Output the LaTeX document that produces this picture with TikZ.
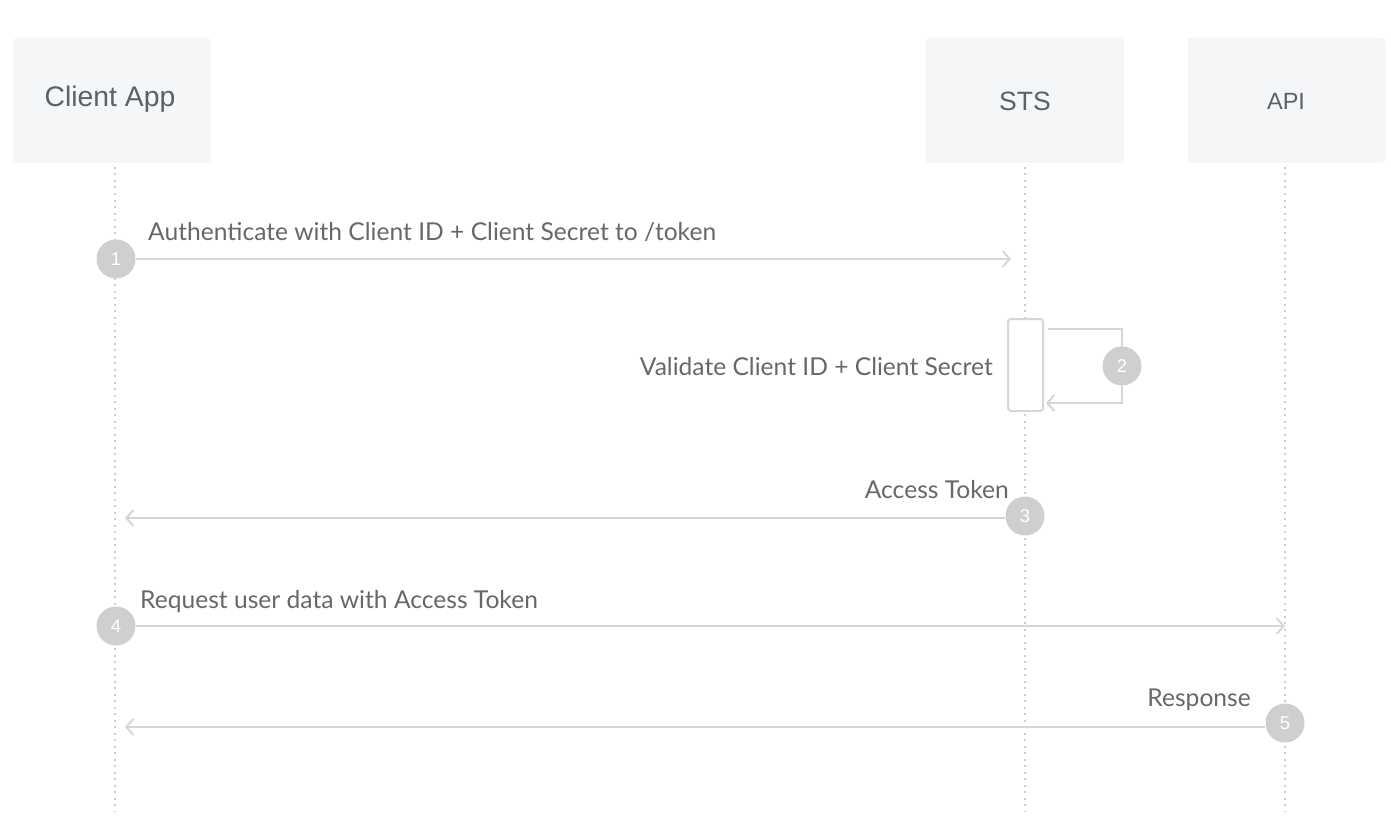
\documentclass[tikz,border=0pt]{standalone}
\usepackage{fontspec}
\setmainfont{Lato}
\newfontfamily\arialfont{Liberation Sans}
\usetikzlibrary{arrows.meta}
\definecolor{boxfill}{HTML}{F5F6F8}
\definecolor{linegray}{HTML}{D6D6D8}
\definecolor{dotgray}{HTML}{CDCDD0}
\definecolor{circgray}{HTML}{CFCFD2}
\definecolor{textgray}{HTML}{676767}
\definecolor{headgray}{HTML}{5C6166}
\tikzset{
  x=1pt,y=-1pt,
  actor/.style={fill=boxfill,rounded corners=3pt,minimum width=198pt,minimum height=125pt,inner sep=0pt},
  actortext/.style={text=headgray,inner sep=0pt},
  lifeline/.style={draw=dotgray,line width=2.2pt,dash pattern=on 2pt off 4.5pt},
  stepnum/.style={circle,fill=circgray,minimum size=39pt,inner sep=0pt,text=white,font=\arialfont\fontsize{18.5}{22}\selectfont},
  msg/.style={draw=linegray,line width=2pt,-{Straight Barb[length=7pt,width=16pt,line width=2pt]}},
  msglabel/.style={text=textgray,font=\fontsize{24.6}{29}\selectfont,inner sep=0pt},
  actbox/.style={draw=linegray,line width=2pt,fill=white,rounded corners=3pt,minimum width=35pt,minimum height=92pt,inner sep=0pt},
}
\begin{document}
\begin{tikzpicture}
\useasboundingbox (0,0) rectangle (1391,837);
% actors
\node[actor] (client) at (112,100.5) {};
\node[actortext,font=\arialfont\fontsize{28.3}{32}\selectfont] (clienttxt) at (110,99) {Client App};
\node[actor] (sts) at (1024.5,100.5) {};
\node[actortext,font=\arialfont\fontsize{26.5}{30}\selectfont] (ststxt) at (1025,101.5) {STS};
\node[actor] (api) at (1286.5,100.5) {};
\node[actortext,font=\arialfont\fontsize{23.5}{28}\selectfont] (apitxt) at (1286,101.5) {API};
% lifeline ends
\coordinate (cEnd) at (115,812);
\coordinate (sEnd) at (1025,812);
\coordinate (aEnd) at (1285,812);
\coordinate (cTop) at (115,167);
\coordinate (sTop) at (1025,167);
\coordinate (aTop) at (1285,167);
\draw[lifeline] (cTop) -- (cEnd);
\draw[lifeline] (sTop) -- (sEnd);
\draw[lifeline] (aTop) -- (aEnd);
% activation
\node[actbox] (act) at (1025.5,365) {};
% step 1
\node[stepnum] (n1) at (116,259) {1};
\coordinate (t1) at (1011,259);
\draw[msg] (n1) -- (t1);
\node[msglabel,anchor=base west] (l1) at (148,240) {Authen\-ti\kern0ptcate with Client ID + Client Secret to /token};
% step 2
\coordinate (s2a) at (1048,329);
\coordinate (s2b) at (1122,329);
\coordinate (s2c) at (1122,403);
\coordinate (s2d) at (1046,403);
\draw[draw=linegray,line width=2pt,-{Straight Barb[length=7pt,width=16pt,line width=2pt]}] (s2a) -- (s2b) -- (s2c) -- (s2d);
\node[stepnum] (n2) at (1122,366) {2};
\node[msglabel,anchor=base east] (l2) at (993,375) {Validate Client ID + Client Secret};
% step 3
\node[stepnum] (n3) at (1025,516) {3};
\coordinate (t3) at (125,518);
\draw[msg] (n3.west |- t3) -- (t3);
\node[msglabel,anchor=base east] (l3) at (1009,498) {Access Token};
% step 4
\node[stepnum] (n4) at (116,626) {4};
\coordinate (t4) at (1285,626);
\draw[msg] (n4) -- (t4);
\node[msglabel,anchor=base west] (l4) at (140,608) {Request user data with Access Token};
% step 5
\node[stepnum] (n5) at (1285,723) {5};
\coordinate (t5) at (125,727);
\draw[msg] (n5.west |- t5) -- (t5);
\node[msglabel,anchor=base east] (l5) at (1251,706) {Response};
\end{tikzpicture}
\end{document}
